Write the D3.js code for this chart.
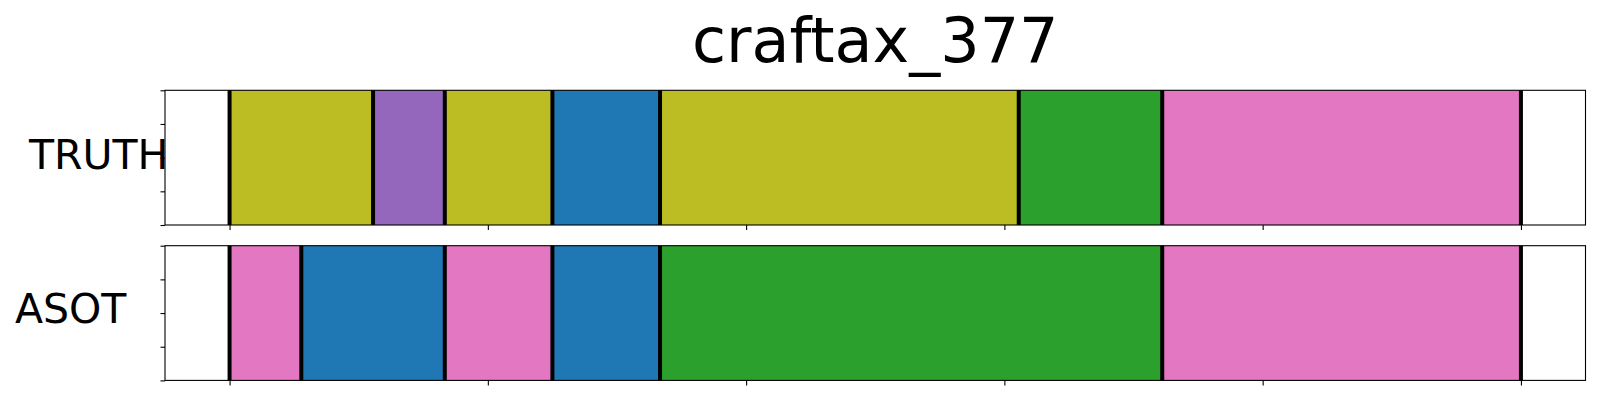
<!DOCTYPE html>
<html>
<head>
<meta charset="utf-8">
<script src="https://cdn.jsdelivr.net/npm/d3@7"></script>
<style>
  html, body { margin: 0; padding: 0; background: #fff; }
  svg { display: block; font-family: "DejaVu Sans", sans-serif; }
</style>
</head>
<body>
<svg id="chart" width="1600" height="400"></svg>
<script>
// ---- data ----
const title = "craftax_377";
const categories = ["TRUTH", "ASOT"];
const truthBounds = [0, 4, 6, 9, 12, 22, 26, 36];
const truthClasses = [8, 4, 8, 0, 8, 2, 6];
const asotBounds = [0, 2, 6, 9, 12, 26, 36];
const asotClasses = [6, 0, 6, 0, 2, 6];
const xTicks = [0, 7.2, 14.4, 21.6, 28.8, 36];
const yTicks = [0, 0.25, 0.5, 0.75, 1];
const xDomain = [-1.8, 37.8];

const rows = [
  { name: categories[0], bounds: truthBounds, classes: truthClasses, top: 90.3, labelX: 29, labelY: 169.3 },
  { name: categories[1], bounds: asotBounds, classes: asotClasses, top: 245.7, labelX: 15, labelY: 323.3 }
];

const svg = d3.select("#chart");
const palette = d3.schemeCategory10;
const axH = 134.7;
const x = d3.scaleLinear().domain(xDomain).range([165, 1585.5]);

svg.append("text")
  .attr("x", (165 + 1585.5) / 2)
  .attr("y", 62)
  .attr("text-anchor", "middle")
  .attr("font-size", 62)
  .attr("fill", "#000")
  .text(title);

rows.forEach(r => {
  const y = d3.scaleLinear().domain([0, 1]).range([r.top + axH, r.top]);
  const g = svg.append("g");
  g.append("rect")
    .attr("x", x.range()[0]).attr("y", r.top)
    .attr("width", x.range()[1] - x.range()[0]).attr("height", axH)
    .attr("fill", "#fff");

  const segs = r.classes.map((c, i) => ({ s: r.bounds[i], e: r.bounds[i + 1], c }));
  g.selectAll("rect.seg").data(segs).enter().append("rect")
    .attr("class", "seg")
    .attr("x", d => x(d.s))
    .attr("width", d => x(d.e) - x(d.s))
    .attr("y", y(1))
    .attr("height", y(0) - y(1))
    .attr("fill", d => palette[d.c]);

  g.selectAll("line.bnd").data(r.bounds).enter().append("line")
    .attr("class", "bnd")
    .attr("x1", d => x(d)).attr("x2", d => x(d))
    .attr("y1", y(1)).attr("y2", y(0))
    .attr("stroke", "#000").attr("stroke-width", 4);

  const xAxis = d3.axisBottom(x).tickValues(xTicks).tickFormat("").tickSize(5).tickSizeOuter(0);
  const yAxis = d3.axisLeft(y).tickValues(yTicks).tickFormat("").tickSize(4.5).tickSizeOuter(0);
  const gx = g.append("g").attr("transform", `translate(0,${r.top + axH})`).call(xAxis);
  const gy = g.append("g").attr("transform", `translate(${x.range()[0]},0)`).call(yAxis);
  [gx, gy].forEach(a => {
    a.select(".domain").remove();
    a.selectAll(".tick line").attr("stroke", "#000").attr("stroke-width", 1.1);
  });

  g.append("rect")
    .attr("x", x.range()[0]).attr("y", r.top)
    .attr("width", x.range()[1] - x.range()[0]).attr("height", axH)
    .attr("fill", "none").attr("stroke", "#000").attr("stroke-width", 1.1);

  svg.append("text")
    .attr("x", r.labelX).attr("y", r.labelY)
    .attr("font-size", 41)
    .attr("fill", "#000")
    .text(r.name);
});
</script>
</body>
</html>
